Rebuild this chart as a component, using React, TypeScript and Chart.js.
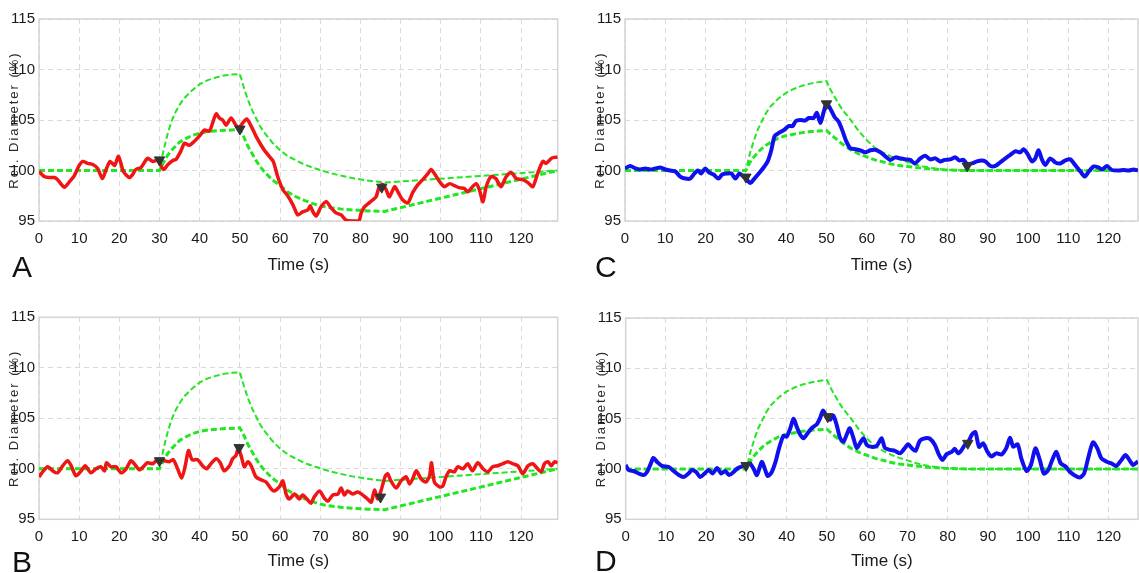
import React, { useEffect, useRef } from "react";
import { Chart, registerables } from "chart.js";

Chart.register(...registerables);

// ---------- data ----------
const xTicks = [0, 10, 20, 30, 40, 50, 60, 70, 80, 90, 100, 110, 120];
const yTicks = [95, 100, 105, 110, 115];
const xTitle = "Time (s)";
const yTitle = "Rel. Diameter (%)";
const panelLetters = ["A", "B", "C", "D"];

const seriesA: [number, number][] = [
  [0, 99.9], [1.3, 99.4], [2.5, 99.3], [3.8, 99.3], [4.6, 99.1], [6.3, 98.35], [7.6, 98.9], [8.8, 99.5], [10, 100.5], [10.9, 100.9],
  [12.1, 100.7], [13.4, 100.6], [14.6, 100.2], [15.8, 99.2], [16.7, 100.1], [17.7, 100.9], [18.8, 100.5], [19.8, 101.4], [21, 99.9], [22.5, 99.3],
  [23.3, 99.6], [24.1, 100.1], [25.4, 100.3], [27, 101.2], [28.3, 100.9], [29.5, 101.0], [31, 100.1], [32.1, 100.6], [33.3, 101.0], [34.1, 101.1],
  [35.4, 102.0], [36.2, 102.7], [37.4, 102.5], [38.7, 102.9], [39.9, 103.4], [41.2, 104.0], [42.4, 103.9], [43.2, 104.7], [44.1, 105.6], [44.9, 105.2],
  [45.7, 105.0], [46.6, 104.5], [47.8, 105.2], [49, 104.5], [49.8, 104.3], [50.7, 104.7], [51.7, 105.1], [52.8, 104.4], [54, 103.4], [55, 102.7],
  [56.1, 102.0], [57.3, 101.4], [58.3, 100.9], [59.4, 99.4], [60.7, 98.1], [61.9, 97.5], [63.2, 96.6], [64.4, 95.6], [65.6, 95.9], [66.9, 96.1],
  [67.5, 96.5], [68.2, 95.9], [69, 95.5], [70.2, 96.4], [71.5, 96.9], [72.7, 96.3], [73.9, 95.8], [75.2, 95.6], [76.4, 95.1], [78.1, 95.0],
  [79.6, 95.0], [80.2, 95.8], [81, 96.4], [82.2, 96.8], [83.1, 97.1], [83.9, 97.4], [84.7, 98.4], [85.6, 98.6], [86.4, 98.1], [87.2, 97.4],
  [88.5, 98.4], [89.3, 97.9], [90.5, 97.1], [91.8, 96.8], [93, 97.8], [94.3, 98.6], [95.5, 99.1], [96.8, 99.7], [97.6, 100.1], [98.4, 99.7],
  [99.7, 98.9], [100.9, 98.4], [102.2, 98.7], [103.4, 98.5], [104.6, 98.3], [105.9, 98.2], [106.7, 97.9], [107.9, 98.4], [108.8, 98.7], [109.6, 98.1],
  [110.5, 96.9], [111.3, 98.4], [112.5, 99.4], [113.7, 99.2], [115, 98.4], [116.3, 99.4], [117.5, 99.8], [118.8, 99.2], [120.4, 99.1], [121.7, 98.8],
  [122.9, 98.4], [124.1, 99.7], [125.4, 100.9], [126.2, 100.7], [127.5, 101.2], [128.3, 101.3], [129.1, 101.3],
];

const seriesB: [number, number][] = [
  [0, 99.2], [0.9, 99.7], [2.2, 100.2], [3.4, 99.8], [4.6, 99.6], [5.9, 100.3], [7.1, 100.8], [8, 100.3], [9.2, 99.3], [10.5, 99.8],
  [11.5, 100.3], [12.9, 99.6], [14.2, 100.0], [15.4, 100.2], [16.3, 99.8], [16.8, 100.6], [17.9, 100.2], [19.2, 100.2], [20.4, 99.6], [21.7, 100.0],
  [22.9, 100.8], [24.1, 100.3], [25, 99.9], [26.2, 100.3], [27, 100.6], [28.3, 100.5], [29.5, 100.9], [31.2, 100.8], [32.4, 100.7], [33.4, 100.9],
  [34.5, 100.0], [35.5, 99.1], [36.4, 100.3], [37.2, 101.8], [38.1, 100.9], [39.5, 100.9], [40.7, 100.3], [41.7, 100.0], [42.8, 100.5], [44.1, 101.0],
  [45.1, 100.6], [46.1, 99.8], [47.4, 100.3], [48.2, 101.0], [49, 101.3], [49.6, 102.0], [50.3, 101.3], [51.1, 100.2], [52, 100.7], [52.8, 100.3],
  [54, 99.2], [55.3, 98.9], [56.5, 98.7], [57.8, 98.0], [58.6, 97.8], [59.8, 98.2], [60.7, 98.8], [61.5, 97.5], [62.3, 97.0], [63.6, 97.5],
  [64.8, 97.0], [65.6, 97.4], [66.9, 96.9], [67.7, 96.6], [68.5, 97.2], [69.8, 97.8], [71, 97.1], [71.9, 96.8], [73.1, 97.4], [74.4, 97.5],
  [75.2, 98.1], [76, 97.4], [76.8, 97.8], [78.1, 97.5], [79.3, 97.7], [80.6, 97.4], [81.8, 97.0], [82.7, 96.7], [83.5, 97.9], [84.3, 97.0],
  [85.1, 97.8], [86.2, 99.3], [86.8, 99.5], [87.6, 98.8], [88.9, 98.1], [90.1, 98.8], [91.4, 99.2], [92.2, 98.5], [93, 99.0], [93.9, 99.8],
  [95.1, 99.0], [96.3, 98.7], [97.2, 99.3], [97.7, 100.6], [98.4, 98.7], [99.7, 98.2], [100.5, 98.3], [101.3, 99.2], [102.2, 99.8], [103.4, 99.7],
  [104.2, 100.2], [105.5, 100.0], [106.7, 100.5], [107.9, 99.8], [109.2, 100.6], [110.5, 100.0], [111.7, 99.7], [112.9, 100.2], [114.2, 100.3], [115.4, 100.5],
  [116.7, 100.7], [117.9, 100.5], [119.2, 100.3], [120.4, 99.5], [121.7, 100.3], [122.9, 100.5], [124.1, 100.0], [125, 99.7], [125.8, 100.5], [126.7, 100.7],
  [127.5, 100.3], [128.3, 100.7], [129.1, 100.6],
];

const seriesC: [number, number][] = [
  [0, 100.2], [1.3, 100.45], [2.6, 100.2], [3.8, 100.1], [5, 100.2], [6.3, 100.1], [7.5, 100.2], [8.8, 100.3], [10, 100.1], [11.2, 100.0],
  [12.5, 99.9], [13.7, 99.4], [15, 99.2], [16.2, 99.2], [17, 99.6], [18.1, 100.0], [18.9, 99.7], [19.9, 100.2], [20.9, 99.8], [22, 99.6],
  [23.2, 99.2], [24.1, 99.6], [25.3, 99.7], [26.4, 99.7], [27.4, 99.2], [28.4, 99.7], [29.4, 99.4], [30, 99.2], [31.1, 98.75], [31.9, 99.1],
  [33.2, 99.7], [34.4, 100.3], [35.4, 100.9], [36.3, 102.0], [37.1, 103.4], [38.1, 103.7], [39.4, 104.0], [40.6, 104.4], [41.6, 104.4], [42.4, 104.9],
  [43.5, 105.0], [44.7, 104.95], [45.6, 105.2], [46.8, 105.2], [47.6, 105.7], [48.5, 104.7], [49.3, 105.8], [50, 106.6], [50.7, 106.3], [52, 105.3],
  [53, 104.85], [54, 103.9], [54.8, 103.0], [55.9, 102.2], [57.2, 102.1], [58.4, 102.0], [59.6, 101.8], [60.9, 102.0], [62.1, 102.05], [63.4, 101.8],
  [64.6, 101.4], [65.8, 101.05], [67.1, 101.3], [68.3, 101.2], [69.6, 101.1], [70.8, 101.05], [71.9, 100.7], [73.3, 101.2], [74.5, 101.45], [75.8, 101.1],
  [77, 101.2], [78.2, 100.9], [79.3, 101.05], [80.7, 101.1], [82, 101.3], [82.9, 101.0], [84, 101.05], [84.9, 100.65], [86.1, 100.7], [87.3, 100.9],
  [88.6, 101.0], [89.4, 100.9], [90.7, 100.45], [91.9, 100.45], [93.1, 100.8], [94.4, 101.2], [95.6, 101.55], [96.9, 101.9], [98.1, 101.8], [98.9, 102.1],
  [99.8, 101.7], [101, 100.9], [101.8, 101.2], [102.6, 102.0], [103.5, 101.05], [104.3, 100.55], [105.5, 101.2], [106.8, 100.8], [108, 100.7], [109.3, 101.0],
  [110.5, 101.1], [111.7, 100.55], [113, 99.9], [114.1, 99.4], [115.1, 99.9], [116.3, 100.4], [117.5, 100.3], [118.4, 100.1], [119.6, 100.45], [120.8, 100.05],
  [122.5, 100.0], [123.7, 100.05], [125, 100.0], [126.2, 100.1], [127.3, 100.0],
];

const seriesD: [number, number][] = [
  [0, 100.4], [0.7, 99.9], [2, 99.8], [3.2, 99.55], [4.5, 99.4], [5.3, 99.7], [6.1, 100.4], [6.9, 101.1], [7.8, 100.7], [9, 100.3],
  [10.7, 100.2], [11.9, 99.8], [13.2, 99.4], [14.4, 99.2], [15.6, 99.55], [16.5, 99.9], [17.5, 99.7], [18.5, 99.2], [19.6, 99.55], [20.6, 99.9],
  [21.6, 99.55], [22.7, 100.1], [23.7, 99.55], [24.7, 99.8], [25.7, 99.4], [26.8, 99.7], [27.9, 100.1], [28.9, 100.25], [29.9, 100.4], [30.9, 100.55],
  [31.8, 100.0], [32.6, 99.4], [33.8, 100.7], [34.5, 100.1], [35.3, 99.3], [36.3, 99.7], [37.3, 100.8], [38.1, 102.05], [39.2, 103.3], [40, 103.2],
  [40.9, 104.05], [41.7, 105.0], [42.5, 104.2], [43.3, 103.45], [44.2, 103.05], [45.2, 103.55], [46.2, 104.05], [47.5, 104.45], [48.3, 105.05], [49, 105.8],
  [49.7, 105.4], [50.8, 104.9], [51.6, 105.3], [52.4, 104.4], [53.3, 103.05], [54.1, 102.7], [54.9, 103.4], [55.7, 104.05], [56.6, 103.05], [57.4, 102.1],
  [58.2, 102.55], [59.1, 103.05], [59.9, 102.4], [61.1, 102.2], [62.4, 102.3], [63.6, 103.05], [64.4, 102.1], [65.7, 101.9], [66.9, 101.8], [68.2, 101.55],
  [69.2, 102.0], [70.2, 102.45], [71, 102.1], [72, 101.8], [73.1, 102.8], [74.4, 103.05], [75.6, 103.0], [76.8, 102.4], [77.8, 101.45], [78.7, 100.9],
  [79.7, 101.45], [81, 101.7], [81.8, 102.0], [82.6, 101.55], [83.5, 101.9], [84.3, 102.4], [85.1, 102.7], [86.1, 103.45], [86.9, 103.65], [87.8, 102.2],
  [88.8, 102.55], [89.9, 101.7], [90.9, 101.25], [92.1, 101.55], [93.4, 101.45], [94.6, 102.1], [95.5, 103.1], [96.3, 102.2], [97.4, 102.45], [98.3, 101.05],
  [99.6, 99.8], [100.7, 100.4], [101.8, 102.05], [102.9, 100.9], [103.9, 99.55], [105, 99.9], [106, 100.9], [107, 101.7], [108.1, 100.55], [109.3, 100.25],
  [110.3, 99.75], [111.6, 99.35], [112.8, 99.15], [113.9, 99.55], [114.9, 101.05], [116.1, 102.65], [117.2, 102.05], [118.2, 101.05], [119.4, 100.75], [120.7, 100.55],
  [121.9, 100.3], [123.2, 100.9], [124.2, 101.4], [125.3, 100.8], [126.1, 100.4], [127.3, 100.75],
];

const upperAB: [number, number][] = [
  [0, 100], [30, 100], [31, 102.0], [32, 103.6], [33, 104.9], [34, 105.8], [35, 106.5], [36, 107.1], [37, 107.5], [38, 107.9],
  [40, 108.55], [42, 108.95], [44, 109.2], [46, 109.4], [48, 109.5], [50, 109.55], [51, 108.2], [52, 107.0], [53, 106.0], [54, 105.2],
  [55, 104.4], [56, 103.8], [58, 102.8], [60, 102.0], [62, 101.4], [64, 101.0], [66, 100.6], [68, 100.3], [70, 100.05], [72, 99.8],
  [75, 99.5], [78, 99.25], [81, 99.05], [84, 98.9], [86, 98.8], [129.1, 100],
];
const lowerAB: [number, number][] = [
  [0, 100], [30, 100], [31, 100.8], [32, 101.5], [33, 102.0], [34, 102.4], [35, 102.8], [36, 103.05], [38, 103.45], [40, 103.7],
  [42, 103.85], [45, 103.95], [50, 104.05], [51, 103.3], [52, 102.4], [53, 101.7], [54, 101.0], [55, 100.4], [56, 99.9], [58, 99.1],
  [60, 98.5], [62, 97.85], [64, 97.4], [66, 97.05], [68, 96.75], [70, 96.5], [72, 96.35], [75, 96.2], [78, 96.1], [82, 96.0],
  [86, 95.95], [129.1, 100],
];
const upperCD: [number, number][] = [
  [0, 100], [30, 100], [31, 101.7], [32, 103.0], [33, 104.1], [34, 104.9], [35, 105.7], [36, 106.3], [38, 107.1], [40, 107.7],
  [42, 108.1], [44, 108.4], [46, 108.6], [48, 108.75], [50, 108.85], [51, 108.0], [52, 107.3], [53, 106.6], [54, 106.0], [55, 105.5],
  [56, 105.0], [58, 103.9], [60, 103.0], [62, 102.25], [64, 101.8], [66, 101.4], [68, 101.1], [70, 100.85], [72, 100.6], [74, 100.4],
  [76, 100.25], [79, 100.1], [82, 100.03], [85, 100], [127.3, 100],
];
const lowerCD: [number, number][] = [
  [0, 100], [30, 100], [31, 100.8], [32, 101.35], [33, 101.8], [34, 102.2], [35, 102.5], [36, 102.75], [38, 103.2], [40, 103.45],
  [42, 103.6], [44, 103.75], [46, 103.85], [48, 103.9], [50, 103.95], [52, 103.25], [54, 102.6], [56, 102.05], [58, 101.65], [60, 101.35],
  [62, 101.05], [64, 100.85], [66, 100.65], [68, 100.5], [70, 100.4], [72, 100.3], [74, 100.22], [76, 100.15], [79, 100.07], [82, 100.02],
  [85, 100], [127.3, 100],
];

const markersA: [number, number][] = [[30, 101.05], [50, 104.1], [85.3, 98.35]];
const markersB: [number, number][] = [[30, 100.8], [49.8, 102.1], [85, 97.2]];
const markersC: [number, number][] = [[30, 99.35], [50, 106.6], [84.9, 100.45]];
const markersD: [number, number][] = [[29.9, 100.35], [50.2, 105.2], [85, 102.55]];

// ---------- layout / style ----------
const FONT = "Arial, 'Liberation Sans', Helvetica, sans-serif";
const RED = "#f01414";
const BLUE = "#1010ee";
const GREEN = "#22e622";
const GRID = "#dadada";
const FRAME = "#d4d4d4";

type PanelSpec = {
  letter: string;
  left: number; top: number; width: number; height: number;
  yAxisW: number; padTop: number; padRight: number; xAxisH: number;
  xMax: number;
  trace: [number, number][]; traceColor: string; traceWidth: number;
  upper: [number, number][]; lower: [number, number][];
  markers: [number, number][];
  letterX: number; letterY: number; xTitleOffset: number;
};

const panels: PanelSpec[] = [
  { letter: panelLetters[0], left: 0, top: 0, width: 570, height: 287, yAxisW: 39, padTop: 19, padRight: 12.3, xAxisH: 66, xMax: 129.1,
    trace: seriesA, traceColor: RED, traceWidth: 3.5, upper: upperAB, lower: lowerAB, markers: markersA, letterX: 12, letterY: 277, xTitleOffset: 44.5 },
  { letter: panelLetters[1], left: 0, top: 290, width: 570, height: 283, yAxisW: 39, padTop: 27.3, padRight: 12.3, xAxisH: 53.7, xMax: 129.1,
    trace: seriesB, traceColor: RED, traceWidth: 3.5, upper: upperAB, lower: lowerAB, markers: markersB, letterX: 12, letterY: 282, xTitleOffset: 42.5 },
  { letter: panelLetters[2], left: 580, top: 0, width: 559, height: 287, yAxisW: 45, padTop: 19, padRight: 1, xAxisH: 66, xMax: 127.3,
    trace: seriesC, traceColor: BLUE, traceWidth: 4, upper: upperCD, lower: lowerCD, markers: markersC, letterX: 15, letterY: 277, xTitleOffset: 44 },
  { letter: panelLetters[3], left: 580, top: 290, width: 559, height: 283, yAxisW: 45.7, padTop: 28, padRight: 1, xAxisH: 53.7, xMax: 127.3,
    trace: seriesD, traceColor: BLUE, traceWidth: 4, upper: upperCD, lower: lowerCD, markers: markersD, letterX: 15, letterY: 281, xTitleOffset: 42.5 },
];

const toXY = (arr: [number, number][]) => arr.map(([x, y]) => ({ x, y }));

const decorPlugin = {
  id: "decor",
  beforeDatasetsDraw(chart: any) {
    const { ctx, chartArea: a } = chart;
    ctx.save();
    ctx.strokeStyle = FRAME;
    ctx.lineWidth = 1.5;
    ctx.setLineDash([]);
    ctx.strokeRect(a.left, a.top, a.right - a.left, a.bottom - a.top);
    ctx.restore();
  },
  afterDraw(chart: any, _args: any, opts: any) {
    const { ctx, chartArea: a } = chart;
    ctx.save();
    ctx.fillStyle = "#2a2a2a";
    ctx.font = `13px ${FONT}`;
    (ctx as any).letterSpacing = "2px";
    ctx.translate(a.left - 24.5, (a.top + a.bottom) / 2);
    ctx.rotate(-Math.PI / 2);
    ctx.textAlign = "center";
    ctx.textBaseline = "middle";
    ctx.fillText(yTitle, 0, 0);
    ctx.restore();

    ctx.save();
    (ctx as any).letterSpacing = "0px";
    ctx.fillStyle = "#1a1a1a";
    ctx.font = `17px ${FONT}`;
    ctx.textAlign = "center";
    ctx.textBaseline = "middle";
    ctx.fillText(xTitle, (a.left + a.right) / 2, a.bottom + opts.xTitleOffset);
    ctx.font = `30px ${FONT}`;
    ctx.textAlign = "left";
    ctx.textBaseline = "alphabetic";
    ctx.fillStyle = "#111";
    ctx.fillText(opts.letter, opts.letterX, opts.letterY);
    ctx.restore();
  },
};

function Panel({ spec }: { spec: PanelSpec }) {
  const ref = useRef<HTMLCanvasElement | null>(null);
  useEffect(() => {
    if (!ref.current) return;
    const chart = new Chart(ref.current, {
      type: "line",
      data: {
        datasets: [
          {
            type: "scatter" as any,
            data: toXY(spec.markers),
            pointStyle: "triangle",
            rotation: 180,
            pointRadius: 6,
            backgroundColor: "#333333",
            borderColor: "#333333",
            borderWidth: 1,
            showLine: false,
          } as any,
          {
            data: toXY(spec.trace),
            borderColor: spec.traceColor,
            borderWidth: spec.traceWidth,
            pointRadius: 0,
            tension: 0.25,
            fill: false,
          },
          {
            data: toXY(spec.upper),
            borderColor: GREEN,
            borderWidth: 2,
            borderDash: [6, 3],
            pointRadius: 0,
            tension: 0,
            fill: false,
          },
          {
            data: toXY(spec.lower),
            borderColor: GREEN,
            borderWidth: 3,
            borderDash: [6, 3],
            pointRadius: 0,
            tension: 0,
            fill: false,
          },
        ],
      },
      options: {
        responsive: false,
        animation: false,
        events: [],
        layout: { autoPadding: false, padding: { left: 0, top: spec.padTop, right: spec.padRight, bottom: 0 } },
        plugins: {
          legend: { display: false },
          tooltip: { enabled: false },
          decor: { letter: spec.letter, letterX: spec.letterX, letterY: spec.letterY, xTitleOffset: spec.xTitleOffset },
        } as any,
        scales: {
          x: {
            type: "linear",
            min: 0,
            max: spec.xMax,
            afterBuildTicks: (s: any) => { s.ticks = xTicks.map((v) => ({ value: v })); },
            afterFit: (s: any) => { s.height = spec.xAxisH; },
            ticks: { padding: 9, color: "#1a1a1a", font: { size: 15, family: FONT }, maxRotation: 0, autoSkip: false },
            grid: { color: GRID, lineWidth: 1, drawTicks: false },
            border: { display: false, dash: [5, 4] },
          },
          y: {
            type: "linear",
            min: 95,
            max: 115,
            afterBuildTicks: (s: any) => { s.ticks = yTicks.map((v) => ({ value: v })); },
            afterFit: (s: any) => { s.width = spec.yAxisW; },
            ticks: { padding: 4, color: "#1a1a1a", font: { size: 15, family: FONT }, autoSkip: false },
            grid: { color: GRID, lineWidth: 1, drawTicks: false },
            border: { display: false, dash: [5, 4] },
          },
        },
      },
      plugins: [decorPlugin as any],
    } as any);
    return () => chart.destroy();
  }, [spec]);
  return (
    <canvas
      ref={ref}
      width={spec.width}
      height={spec.height}
      style={{ position: "absolute", left: spec.left, top: spec.top, width: spec.width, height: spec.height }}
    />
  );
}

export default function App() {
  return (
    <div style={{ position: "fixed", left: 0, top: 0, width: 1139, height: 573, background: "#fff", overflow: "hidden" }}>
      {panels.map((p) => (
        <Panel key={p.letter} spec={p} />
      ))}
    </div>
  );
}
